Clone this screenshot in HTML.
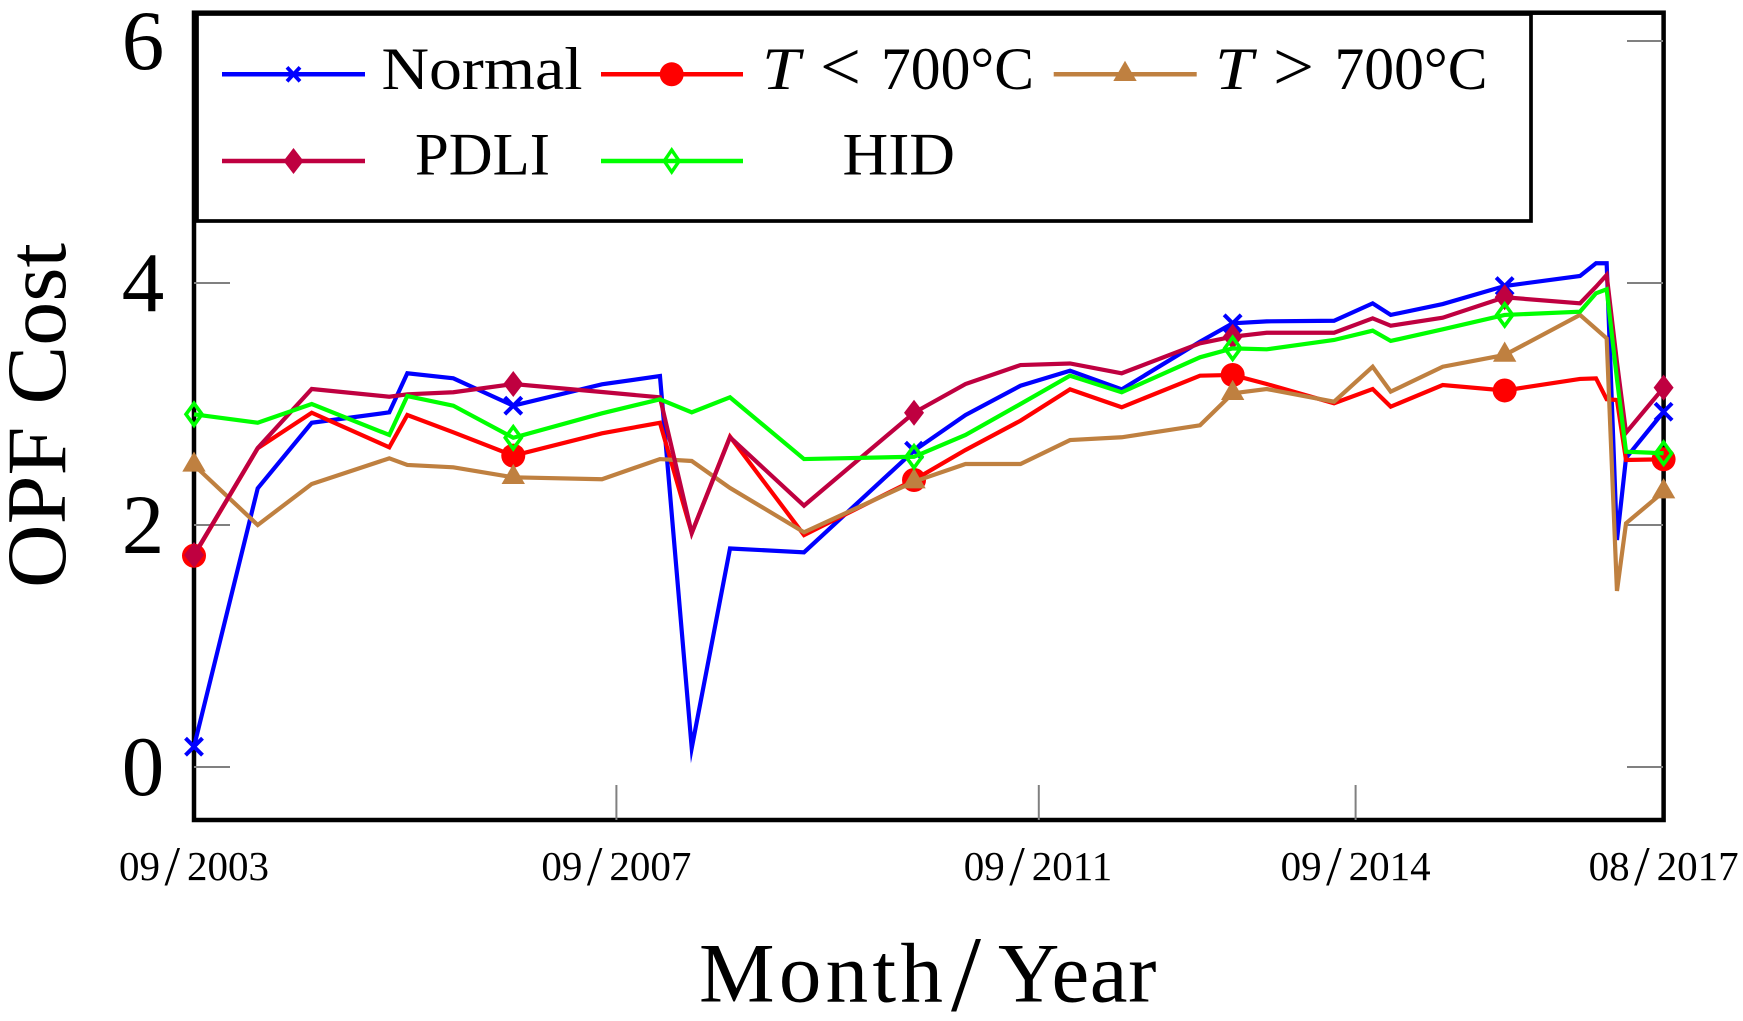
<!DOCTYPE html>
<html lang="en">
<head>
<meta charset="utf-8">
<title>OPF Cost by Month/Year</title>
<style>
  html, body { margin: 0; padding: 0; background: #ffffff; }
  svg { display: block; font-family: "Liberation Serif", serif; fill: #000; }
</style>
</head>
<body>
<svg id="chart" xmlns="http://www.w3.org/2000/svg" width="1743" height="1021" viewBox="0 0 1743 1021">
  <rect x="0" y="0" width="1743" height="1021" fill="#ffffff"/>
  <rect x="194" y="12.7" width="1469.6" height="807.3" fill="none" stroke="#000" stroke-width="4.5"/>
  <g id="ticks"></g>
  <g id="series"></g>

  <text transform="translate(65 588) rotate(-90)" font-size="85" textLength="345" lengthAdjust="spacingAndGlyphs">OPF Cost</text>
  <text y="1001.5" font-size="85"><tspan x="699" letter-spacing="4.3">Month</tspan><tspan x="951" dy="9" font-size="108">/</tspan><tspan x="998" dy="-9" letter-spacing="0.6">Year</tspan></text>

  <g>
    <rect x="197" y="14" width="1334" height="207" fill="#ffffff" stroke="#000" stroke-width="3.7"/>

    <g>
      <line x1="222" y1="74.3" x2="365" y2="74.3" stroke="#0000ff" stroke-width="4.5"/>
      <path d="M287 67.3L300 81.3M287 81.3L300 67.3" stroke="#0000ff" stroke-width="3.8" fill="none"/>
      <text x="381.5" y="88.8" font-size="60" textLength="201" lengthAdjust="spacingAndGlyphs">Normal</text>
    </g>

    <g>
      <line x1="601" y1="74.3" x2="743" y2="74.3" stroke="#ff0000" stroke-width="4.5"/>
      <circle cx="671.7" cy="74.3" r="12" fill="#ff0000"/>
      <text x="762" y="88.8" font-size="60" font-style="italic" textLength="38" lengthAdjust="spacingAndGlyphs">T</text>
      <text x="820" y="90" font-size="70" textLength="41" lengthAdjust="spacingAndGlyphs">&lt;</text>
      <text x="881" y="88.8" font-size="60" textLength="153" lengthAdjust="spacingAndGlyphs">700°C</text>
    </g>

    <g>
      <line x1="1053.7" y1="74.3" x2="1196.7" y2="74.3" stroke="#bf8040" stroke-width="4.5"/>
      <polygon points="1125,60.8 1136.7,81 1113.3,81" fill="#bf8040"/>
      <text x="1215" y="88.8" font-size="60" font-style="italic" textLength="38" lengthAdjust="spacingAndGlyphs">T</text>
      <text x="1273" y="90" font-size="70" textLength="41" lengthAdjust="spacingAndGlyphs">&gt;</text>
      <text x="1334.5" y="88.8" font-size="60" textLength="153" lengthAdjust="spacingAndGlyphs">700°C</text>
    </g>

    <g>
      <line x1="222" y1="161" x2="365" y2="161" stroke="#bf0040" stroke-width="4.5"/>
      <polygon points="293.5,148 303.5,161 293.5,174 283.5,161" fill="#bf0040"/>
      <text x="415" y="174.3" font-size="60" textLength="135" lengthAdjust="spacingAndGlyphs">PDLI</text>
    </g>

    <g>
      <line x1="601" y1="161" x2="743" y2="161" stroke="#00ff00" stroke-width="4.5"/>
      <polygon points="671.7,150 679.2,161 671.7,172 664.2,161" fill="none" stroke="#00ff00" stroke-width="3.4"/>
      <text x="842.5" y="174.3" font-size="60" textLength="112.5" lengthAdjust="spacingAndGlyphs">HID</text>
    </g>
  </g>
</svg>

<script>
// Months elapsed since 09/2003 for every sample
const monthOffsets = [0, 7.24, 13.38, 22.19, 24.24, 29.47, 36.28, 46.36, 52.95, 56.56, 60.91, 69.32, 81.82, 87.67, 93.92, 99.55, 105.42, 114.32, 118.03, 121.9, 129.55, 133.94, 135.99, 141.9, 148.94, 157.5, 159.32, 160.53, 161.7, 162.73, 167];

const normal = [0.168, 2.303, 2.845, 2.931, 3.254, 3.212, 2.986, 3.163, 3.231, 0.157, 1.806, 1.774, 2.614, 2.909, 3.151, 3.275, 3.121, 3.515, 3.667, 3.683, 3.688, 3.832, 3.736, 3.826, 3.975, 4.058, 4.163, 4.163, 1.876, 2.554, 2.936];
const tBelow700 = [1.746, 2.634, 2.928, 2.642, 2.909, 2.766, 2.573, 2.758, 2.845, 1.934, 2.73, 1.917, 2.372, 2.62, 2.862, 3.121, 2.973, 3.234, 3.24, 3.165, 3.006, 3.124, 2.978, 3.157, 3.112, 3.207, 3.212, 3.039, 3.033, 2.537, 2.543];
const tAbove700 = [2.496, 2.0, 2.339, 2.551, 2.496, 2.477, 2.394, 2.378, 2.545, 2.529, 2.306, 1.94, 2.358, 2.504, 2.504, 2.702, 2.725, 2.824, 3.088, 3.124, 3.019, 3.308, 3.102, 3.308, 3.405, 3.736, 3.62, 3.543, 1.455, 2.014, 2.275];
const pdli = [1.752, 2.636, 3.124, 3.06, 3.08, 3.097, 3.165, 3.099, 3.055, 1.934, 2.725, 2.16, 2.928, 3.165, 3.322, 3.335, 3.254, 3.502, 3.556, 3.589, 3.589, 3.708, 3.647, 3.713, 3.882, 3.832, 3.969, 4.066, 3.345, 2.763, 3.135];
const hid = [2.915, 2.845, 3.0, 2.744, 3.066, 2.986, 2.721, 2.923, 3.039, 2.931, 3.055, 2.545, 2.564, 2.744, 3.0, 3.234, 3.097, 3.386, 3.46, 3.452, 3.529, 3.606, 3.521, 3.617, 3.736, 3.763, 3.915, 3.948, 3.207, 2.606, 2.593];

const yTickValues = [0, 2, 4, 6];
const yTickLabels = ['0', '2', '4', '6'];
const xTickMonths = [0, 48, 96, 132, 167];
const xTickLabels = ['09/2003', '09/2007', '09/2011', '09/2014', '08/2017'];
const markerEvery = 6;

const SVG_NS = 'http://www.w3.org/2000/svg';
const svg = document.getElementById('chart');
const ticksGroup = document.getElementById('ticks');
const seriesGroup = document.getElementById('series');

function xScale(month) { return 194 + 8.8 * month; }
function yScale(value) { return 767 - 121 * value; }

function make(tag) { return document.createElementNS(SVG_NS, tag); }

function setLine(el, x1, y1, x2, y2) {
  el.setAttribute('x1', x1);
  el.setAttribute('y1', y1);
  el.setAttribute('x2', x2);
  el.setAttribute('y2', y2);
  el.setAttribute('stroke', '#808080');
  el.setAttribute('stroke-width', '2');
}

// y ticks and labels
yTickValues.forEach(function (v, i) {
  const y = yScale(v);
  if (v !== 6) {
    const left = make('line');
    
    
    setLine(left, 194, y, 230, y);
    ticksGroup.appendChild(left);
  }
  const right = make('line');
  
  
  setLine(right, 1627, y, 1663, y);
  ticksGroup.appendChild(right);

  const label = make('text');
  
  
  label.setAttribute('x', 143);
  label.setAttribute('y', y + 28);
  label.setAttribute('font-size', '85');
  label.setAttribute('text-anchor', 'middle');
  label.textContent = yTickLabels[i];
  svg.appendChild(label);
});

// x ticks and labels (the tall, spaced slash is set as its own tspan)
xTickMonths.forEach(function (m, i) {
  const x = xScale(m);
  if (i > 0 && i < xTickMonths.length - 1) {
    const tick = make('line');
    
    
    setLine(tick, x, 785, x, 820);
    ticksGroup.appendChild(tick);
  }
  const parts = xTickLabels[i].split('/');
  const label = make('text');
  
  
  label.setAttribute('y', 880);
  label.setAttribute('font-size', '41');

  const monthPart = make('tspan');
  monthPart.setAttribute('x', x - 75);
  monthPart.textContent = parts[0];
  label.appendChild(monthPart);

  const slash = make('tspan');
  slash.setAttribute('x', x - 29.5);
  slash.setAttribute('dy', '4.8');
  slash.setAttribute('font-size', '56');
  slash.textContent = '/';
  label.appendChild(slash);

  const yearPart = make('tspan');
  yearPart.setAttribute('x', x - 7);
  yearPart.setAttribute('dy', '-4.8');
  yearPart.textContent = parts[1];
  label.appendChild(yearPart);

  svg.appendChild(label);
});

function drawCross(g, x, y, color) {
  const m = make('path');
  
  
  m.setAttribute('d', 'M' + (x - 8.5) + ' ' + (y - 8.5) + 'L' + (x + 8.5) + ' ' + (y + 8.5) + 'M' + (x - 8.5) + ' ' + (y + 8.5) + 'L' + (x + 8.5) + ' ' + (y - 8.5));
  m.setAttribute('stroke', color);
  m.setAttribute('stroke-width', '4');
  m.setAttribute('fill', 'none');
  g.appendChild(m);
}
function drawCircle(g, x, y, color) {
  const m = make('circle');
  
  
  m.setAttribute('cx', x);
  m.setAttribute('cy', y);
  m.setAttribute('r', '12');
  m.setAttribute('fill', color);
  g.appendChild(m);
}
function drawTriangle(g, x, y, color) {
  const m = make('polygon');
  
  
  m.setAttribute('points', x + ',' + (y - 13.5) + ' ' + (x + 11.7) + ',' + (y + 6.7) + ' ' + (x - 11.7) + ',' + (y + 6.7));
  m.setAttribute('fill', color);
  g.appendChild(m);
}
function drawSolidDiamond(g, x, y, color) {
  const m = make('polygon');
  
  
  m.setAttribute('points', x + ',' + (y - 13) + ' ' + (x + 10) + ',' + y + ' ' + x + ',' + (y + 13) + ' ' + (x - 10) + ',' + y);
  m.setAttribute('fill', color);
  g.appendChild(m);
}
function drawOpenDiamond(g, x, y, color) {
  const m = make('polygon');
  
  
  m.setAttribute('points', x + ',' + (y - 11) + ' ' + (x + 8) + ',' + y + ' ' + x + ',' + (y + 11) + ' ' + (x - 8) + ',' + y);
  m.setAttribute('fill', 'none');
  m.setAttribute('stroke', color);
  m.setAttribute('stroke-width', '3.6');
  g.appendChild(m);
}

function drawSeries(name, values, color, drawMarker) {
  const g = make('g');
  
  
  const line = make('polyline');
  
  
  line.setAttribute('points', values.map(function (v, i) {
    return xScale(monthOffsets[i]).toFixed(2) + ',' + yScale(v).toFixed(2);
  }).join(' '));
  line.setAttribute('fill', 'none');
  line.setAttribute('stroke', color);
  line.setAttribute('stroke-width', '4.2');
  line.setAttribute('stroke-linejoin', 'miter');
  line.setAttribute('stroke-miterlimit', '10');
  g.appendChild(line);
  values.forEach(function (v, i) {
    if (i % markerEvery === 0) {
      drawMarker(g, xScale(monthOffsets[i]), yScale(v), color);
    }
  });
  seriesGroup.appendChild(g);
}

drawSeries('normal', normal, '#0000ff', drawCross);
drawSeries('t-below-700', tBelow700, '#ff0000', drawCircle);
drawSeries('t-above-700', tAbove700, '#bf8040', drawTriangle);
drawSeries('pdli', pdli, '#bf0040', drawSolidDiamond);
drawSeries('hid', hid, '#00ff00', drawOpenDiamond);
</script>
</body>
</html>
